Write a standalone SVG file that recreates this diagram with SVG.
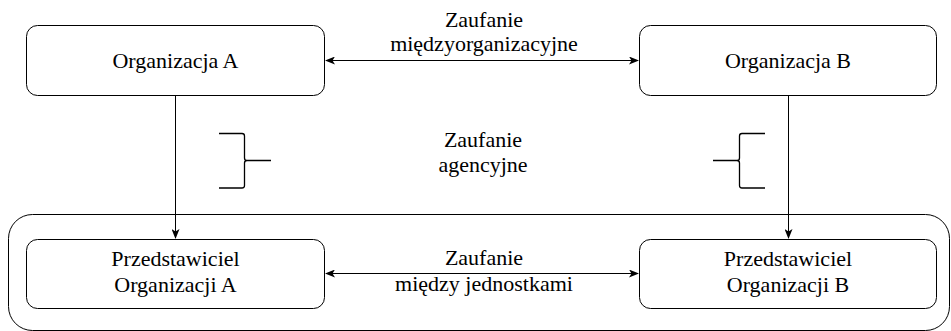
<svg xmlns="http://www.w3.org/2000/svg" width="951" height="331" viewBox="0 0 951 331">
  <style>
    .box { fill: #ffffff; stroke: #000000; stroke-width: 1; }
    .frame { fill: none; stroke: #000000; stroke-width: 1; }
    .line { fill: none; stroke: #000000; stroke-width: 1; }
    .brace { fill: none; stroke: #000000; stroke-width: 1.3; }
    .t { font-family: 'Liberation Serif', 'Times New Roman', serif; font-size: 22px; fill: #000000; text-anchor: middle; }
  </style>
  <defs>
    <marker id="arrow" viewBox="0 0 10 8" refX="9" refY="4" markerWidth="10" markerHeight="8" markerUnits="userSpaceOnUse" orient="auto-start-reverse">
      <path d="M0,0 L10,4 L0,8 L2.5,4 Z" fill="#000000"/>
    </marker>
  </defs>

  <!-- outer frame around the representatives -->
  <rect class="frame" x="8.5" y="214.5" width="941" height="116" rx="24" ry="24"/>

  <g id="org-a">
    <rect class="box" x="26.5" y="25.5" width="298" height="70" rx="11" ry="11"/>
    <text class="t" x="175.5" y="68">Organizacja A</text>
  </g>

  <g id="org-b">
    <rect class="box" x="639.5" y="25.5" width="297" height="70" rx="11" ry="11"/>
    <text class="t" x="788" y="68">Organizacja B</text>
  </g>

  <g id="rep-a">
    <rect class="box" x="26.5" y="239.5" width="298" height="69" rx="11" ry="11"/>
    <text class="t" x="175.5" y="266">Przedstawiciel</text>
    <text class="t" x="175.5" y="292">Organizacji A</text>
  </g>

  <g id="rep-b">
    <rect class="box" x="639.5" y="239.5" width="297" height="69" rx="11" ry="11"/>
    <text class="t" x="788" y="266">Przedstawiciel</text>
    <text class="t" x="788" y="292">Organizacji B</text>
  </g>

  <g id="connectors">
    <line class="line" x1="326" y1="60.5" x2="638" y2="60.5" marker-start="url(#arrow)" marker-end="url(#arrow)"/>
    <line class="line" x1="326" y1="273.5" x2="638" y2="273.5" marker-start="url(#arrow)" marker-end="url(#arrow)"/>
    <line class="line" x1="175.5" y1="96" x2="175.5" y2="238" marker-end="url(#arrow)"/>
    <line class="line" x1="788.5" y1="96" x2="788.5" y2="238" marker-end="url(#arrow)"/>
  </g>

  <g id="braces">
    <path class="brace" d="M219,133.5 L242,133.5 Q244.5,133.5 244.5,136 L244.5,158 Q244.5,160.5 247,160.5 L271,160.5 M247,160.5 Q244.5,160.5 244.5,163 L244.5,185.5 Q244.5,188 242,188 L219,188"/>
    <path class="brace" d="M765,133.5 L742,133.5 Q739.5,133.5 739.5,136 L739.5,158 Q739.5,160.5 737,160.5 L713,160.5 M737,160.5 Q739.5,160.5 739.5,163 L739.5,185.5 Q739.5,188 742,188 L765,188"/>
  </g>

  <g id="labels">
    <text class="t" x="484" y="27">Zaufanie</text>
    <text class="t" x="484" y="51">międzyorganizacyjne</text>
    <text class="t" x="483" y="147">Zaufanie</text>
    <text class="t" x="483" y="172">agencyjne</text>
    <text class="t" x="484" y="265">Zaufanie</text>
    <text class="t" x="484" y="291">między jednostkami</text>
  </g>
</svg>
